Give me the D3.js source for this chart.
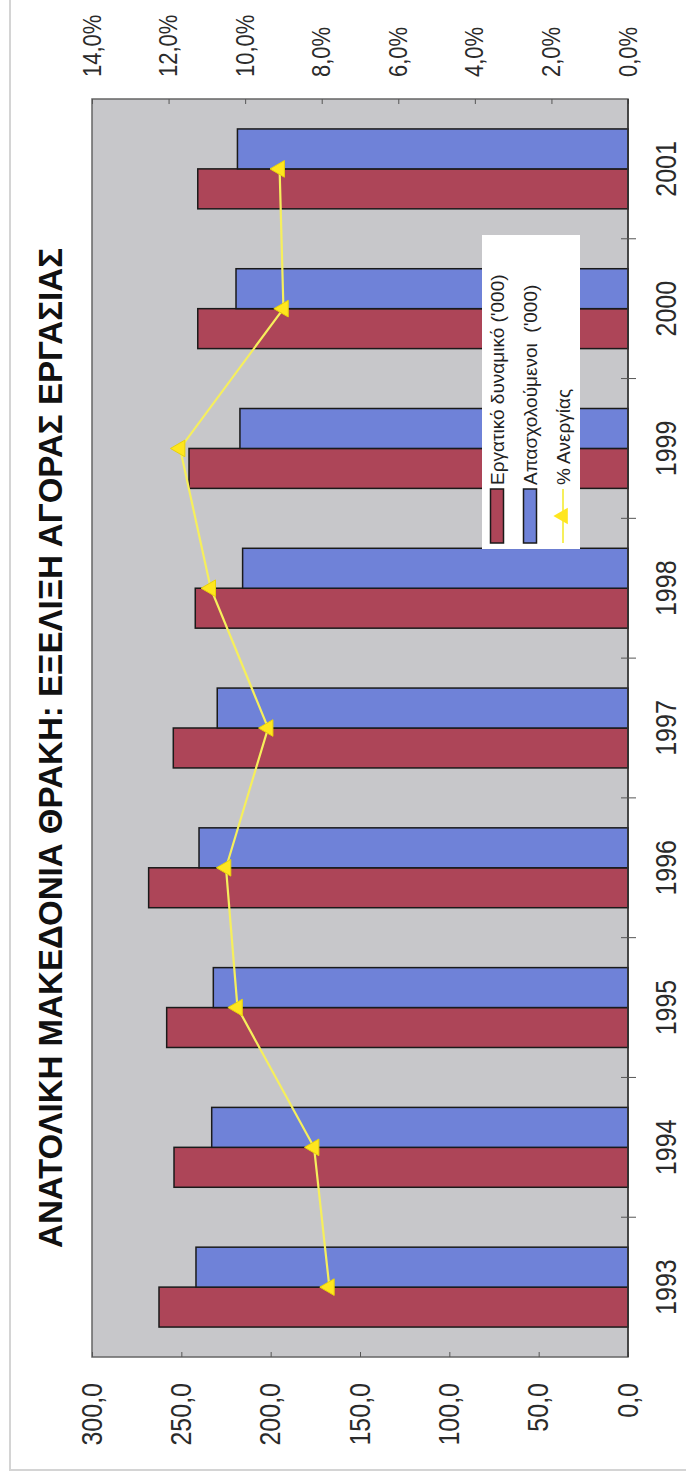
<!DOCTYPE html>
<html>
<head>
<meta charset="utf-8">
<script src="https://cdn.jsdelivr.net/npm/d3@7"></script>
<style>
  body { margin: 0; background: #fff; }
  text { font-family: "Liberation Sans", Arial, sans-serif; }
</style>
</head>
<body>
<svg width="686" height="1476"></svg>
<script>
const years = ['1993', '1994', '1995', '1996', '1997', '1998', '1999', '2000', '2001'];
const labourForce = [262.5, 254.1, 258.2, 268.3, 254.5, 242.2, 245.7, 240.8, 240.8];
const employed = [241.8, 233.0, 232.1, 240.1, 229.9, 215.7, 217.2, 219.4, 218.6];
const unemployment = [7.8, 8.2, 10.2, 10.5, 9.4, 10.9, 11.7, 9.0, 9.1];
const leftTicks = [0, 50, 100, 150, 200, 250, 300];
const rightTicks = [0, 2, 4, 6, 8, 10, 12, 14];
const seriesNames = ["Εργατικό δυναμικό ('000)", "Απασχολούμενοι  ('000)", '% Ανεργίας'];

const svg = d3.select('svg');
const H = +svg.attr('height');

// the whole chart is drawn upright, then turned a quarter to the left
const g = svg.append('g')
  .attr('transform', `translate(0, ${H}) rotate(-90)`);

const plot = {left: 119, right: 1377, top: 92, bottom: 628};
const stretch = 'scale(1, 1.15)';
const comma = d => d3.format('.1f')(d).replace('.', ',');

// outer chart border
g.append('rect')
  .attr('x', 6).attr('y', 10)
  .attr('width', 1500).attr('height', 700)
  .attr('fill', 'none')
  .attr('stroke', '#d4d4d4')
  .attr('stroke-width', 2);

const x = d3.scaleBand().domain(years).range([plot.left, plot.right]);
const xs = d3.scaleBand().domain([0, 1]).range([0, x.bandwidth()]).paddingOuter(0.75);
const y = d3.scaleLinear().domain([0, 300]).range([plot.bottom, plot.top]);
const y2 = d3.scaleLinear().domain([0, 14]).range([plot.bottom, plot.top]);

g.append('rect')
  .attr('x', plot.left).attr('y', plot.top)
  .attr('width', plot.right - plot.left)
  .attr('height', plot.bottom - plot.top)
  .attr('fill', '#c7c7ca')
  .attr('stroke', '#666')
  .attr('stroke-width', 1.5);

const colors = ['#ad4558', '#6f82d8'];
[labourForce, employed].forEach((vals, i) => {
  g.append('g').selectAll('rect')
    .data(vals)
    .join('rect')
    .attr('x', (d, j) => x(years[j]) + xs(i))
    .attr('y', d => y(d))
    .attr('width', xs.bandwidth())
    .attr('height', d => y(0) - y(d))
    .attr('fill', colors[i])
    .attr('stroke', '#1a1a1a')
    .attr('stroke-width', 1.5);
});

// left value axis
const yAxis = g.append('g')
  .attr('transform', `translate(${plot.left}, 0)`)
  .call(d3.axisLeft(y).tickValues(leftTicks).tickSizeInner(-5).tickSizeOuter(0)
    .tickPadding(26).tickFormat(comma));

// right percent axis
const y2Axis = g.append('g')
  .attr('transform', `translate(${plot.right}, 0)`)
  .call(d3.axisRight(y2).tickValues(rightTicks).tickSizeInner(-5).tickSizeOuter(0)
    .tickPadding(22).tickFormat(d => comma(d) + '%'));

// category axis, labels only
const xAxis = g.append('g')
  .attr('transform', `translate(0, ${plot.bottom})`)
  .call(d3.axisBottom(x).tickSize(0).tickPadding(24));

[yAxis, y2Axis, xAxis].forEach(a => {
  a.select('.domain').remove();
  a.selectAll('line').attr('stroke', '#555');
  a.selectAll('text')
    .attr('fill', '#2a2a2a')
    .attr('font-size', 25)
    .attr('transform', stretch);
});
y2Axis.selectAll('text').attr('font-size', 22);

// category axis line and ticks between years
g.append('line')
  .attr('x1', plot.left).attr('x2', plot.right)
  .attr('y1', plot.bottom).attr('y2', plot.bottom)
  .attr('stroke', '#333').attr('stroke-width', 1.5);
g.append('g').selectAll('line')
  .data(years.slice(1))
  .join('line')
  .attr('x1', d => x(d)).attr('x2', d => x(d))
  .attr('y1', plot.bottom - 7).attr('y2', plot.bottom + 8)
  .attr('stroke', '#555');

// unemployment line
const line = d3.line()
  .x((d, i) => x(years[i]) + x.bandwidth() / 2)
  .y(d => y2(d));

g.append('path')
  .datum(unemployment)
  .attr('d', line)
  .attr('fill', 'none')
  .attr('stroke', '#f6ef5c')
  .attr('stroke-width', 2.2);

const tri = d3.symbol(d3.symbolTriangle).size(120);
g.append('g').selectAll('path')
  .data(unemployment)
  .join('path')
  .attr('d', tri)
  .attr('transform', (d, i) => `translate(${x(years[i]) + x.bandwidth() / 2}, ${y2(d)})`)
  .attr('fill', '#ffe61e')
  .attr('stroke', '#e8d20a');

// title
g.append('g')
  .attr('transform', 'translate(728, 62) scale(1, 1.1)')
  .append('text')
  .attr('text-anchor', 'middle')
  .attr('font-size', 30)
  .attr('font-weight', 'bold')
  .attr('fill', '#111')
  .attr('textLength', 1000)
  .attr('lengthAdjust', 'spacingAndGlyphs')
  .text('ΑΝΑΤΟΛΙΚΗ ΜΑΚΕΔΟΝΙΑ ΘΡΑΚΗ: ΕΞΕΛΙΞΗ ΑΓΟΡΑΣ ΕΡΓΑΣΙΑΣ');

// legend
const legend = g.append('g').attr('transform', 'translate(927, 482)');
legend.append('rect')
  .attr('width', 314).attr('height', 98)
  .attr('fill', '#fff');

const rowY = [15, 48, 81];
legend.selectAll('rect.sw')
  .data(colors)
  .join('rect')
  .attr('class', 'sw')
  .attr('x', 6).attr('y', (d, i) => rowY[i] - 6.5)
  .attr('width', 54).attr('height', 13)
  .attr('fill', d => d)
  .attr('stroke', '#1a1a1a')
  .attr('stroke-width', 1.5);

legend.append('line')
  .attr('x1', 6).attr('x2', 60)
  .attr('y1', rowY[2]).attr('y2', rowY[2])
  .attr('stroke', '#f6ef5c').attr('stroke-width', 2);
legend.append('path')
  .attr('d', tri)
  .attr('transform', `translate(33, ${rowY[2]})`)
  .attr('fill', '#ffe61e');

legend.selectAll('text')
  .data(seriesNames)
  .join('text')
  .attr('x', 64)
  .attr('y', (d, i) => rowY[i])
  .attr('dominant-baseline', 'central')
  .attr('font-size', 19)
  .attr('fill', '#222')
  .style('white-space', 'pre')
  .text(d => d);
</script>
</body>
</html>
